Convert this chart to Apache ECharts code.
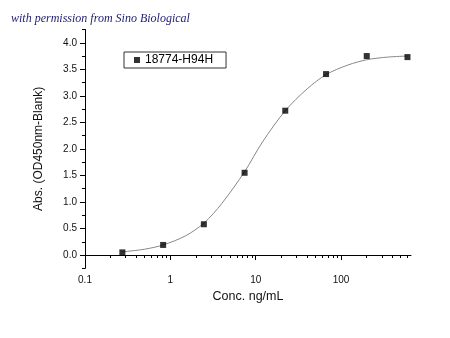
<!DOCTYPE html>
<html><head><meta charset="utf-8">
<script src="https://cdn.jsdelivr.net/npm/echarts@6/dist/echarts.min.js"></script>
<style>html,body{margin:0;padding:0;background:#fff}#c{width:450px;height:338px}</style>
</head><body><div id="c"></div>
<script>
// measured points
const concentrations = [0.274, 0.823, 2.47, 7.41, 22.2, 66.7, 200, 600];
const absorbance = [0.05, 0.19, 0.58, 1.55, 2.72, 3.41, 3.75, 3.73];
// fitted curve
const curveConc = [0.274, 0.5, 0.823, 1.5, 2.47, 4, 7.41, 12, 22.2, 40, 66.7, 120, 200, 350, 600];
const curveAbs  = [0.06, 0.11, 0.19, 0.36, 0.60, 0.97, 1.57, 2.13, 2.72, 3.13, 3.40, 3.58, 3.68, 3.73, 3.75];
const seriesName = '18774-H94H';
const yMajorTicks = [0, 0.5, 1.0, 1.5, 2.0, 2.5, 3.0, 3.5, 4.0];
const yMinorTicks = [-0.25, 0.25, 0.75, 1.25, 1.75, 2.25, 2.75, 3.25, 3.75, 4.25];
const xMajorTicks = [0.1, 1, 10, 100];
const xMinorTicks = [0.2,0.3,0.4,0.5,0.6,0.7,0.8,0.9,2,3,4,5,6,7,8,9,20,30,40,50,60,70,80,90,200,300,400,500,600];

const pts = concentrations.map((c, i) => [c, absorbance[i]]);
const curve = curveConc.map((c, i) => [c, curveAbs[i]]);
const font = 'Liberation Sans, Arial, sans-serif';
const axisCol = '#000';
const grid = {left: 85, right: 39, top: 29.5, bottom: 69.7};
const chart = echarts.init(document.getElementById('c'));
chart.setOption({
  animation: false,
  title: {
    text: 'with permission from Sino Biological', left: 6, top: 8,
    textStyle: {fontFamily: 'Liberation Serif, serif', fontStyle: 'italic', fontWeight: 'normal', fontSize: 12, color: '#1c1c72'}
  },
  grid: grid,
  legend: {
    data: [seriesName], left: 124, top: 52, orient: 'horizontal',
    icon: 'rect', itemWidth: 6, itemHeight: 6, itemGap: 6,
    borderColor: '#333', borderWidth: 1, padding: [2, 13, 2, 10],
    textStyle: {fontFamily: font, fontSize: 12, color: '#000'}
  },
  xAxis: [{
    type: 'log', logBase: 10, min: 0.1, max: 660,
    name: 'Conc. ng/mL', nameLocation: 'middle', nameGap: 22,
    nameTextStyle: {fontFamily: font, fontSize: 12.5, color: '#111'},
    axisLine: {lineStyle: {color: axisCol, width: 1}},
    axisTick: {show: true, length: 5, inside: false, customValues: xMajorTicks, lineStyle: {color: axisCol}},
    axisLabel: {customValues: xMajorTicks, margin: 7, fontFamily: font, fontSize: 10, color: '#111',
      formatter: v => String(v)},
    splitLine: {show: false}
  }, {
    type: 'log', logBase: 10, min: 0.1, max: 660, position: 'bottom', gridIndex: 0,
    axisLine: {show: false},
    axisTick: {show: true, length: 3, customValues: xMinorTicks, lineStyle: {color: axisCol}},
    axisLabel: {show: false}, splitLine: {show: false}
  }],
  yAxis: [{
    type: 'value', min: -0.25, max: 4.25,
    name: 'Abs. (OD450nm-Blank)', nameLocation: 'middle', nameGap: 40, nameRotate: 90,
    nameTextStyle: {fontFamily: font, fontSize: 12, color: '#111'},
    axisLine: {show: true, lineStyle: {color: axisCol, width: 1}},
    axisTick: {show: true, length: 5, customValues: yMajorTicks, lineStyle: {color: axisCol}},
    axisLabel: {customValues: yMajorTicks, margin: 8, fontFamily: font, fontSize: 10, color: '#111',
      formatter: v => v.toFixed(1)},
    splitLine: {show: false}
  }, {
    type: 'value', min: -0.25, max: 4.25, position: 'left', gridIndex: 0,
    axisLine: {show: false},
    axisTick: {show: true, length: 3, customValues: yMinorTicks, lineStyle: {color: axisCol}},
    axisLabel: {show: false}, splitLine: {show: false}
  }],
  series: [{
    type: 'line', name: 'fit', data: curve, smooth: 0.3, showSymbol: false, silent: true,
    lineStyle: {color: '#888', width: 1}, z: 1
  }, {
    type: 'scatter', name: seriesName, data: pts, symbol: 'rect', symbolSize: 6,
    itemStyle: {color: '#000'}, z: 3
  }]
});
</script></body></html>
